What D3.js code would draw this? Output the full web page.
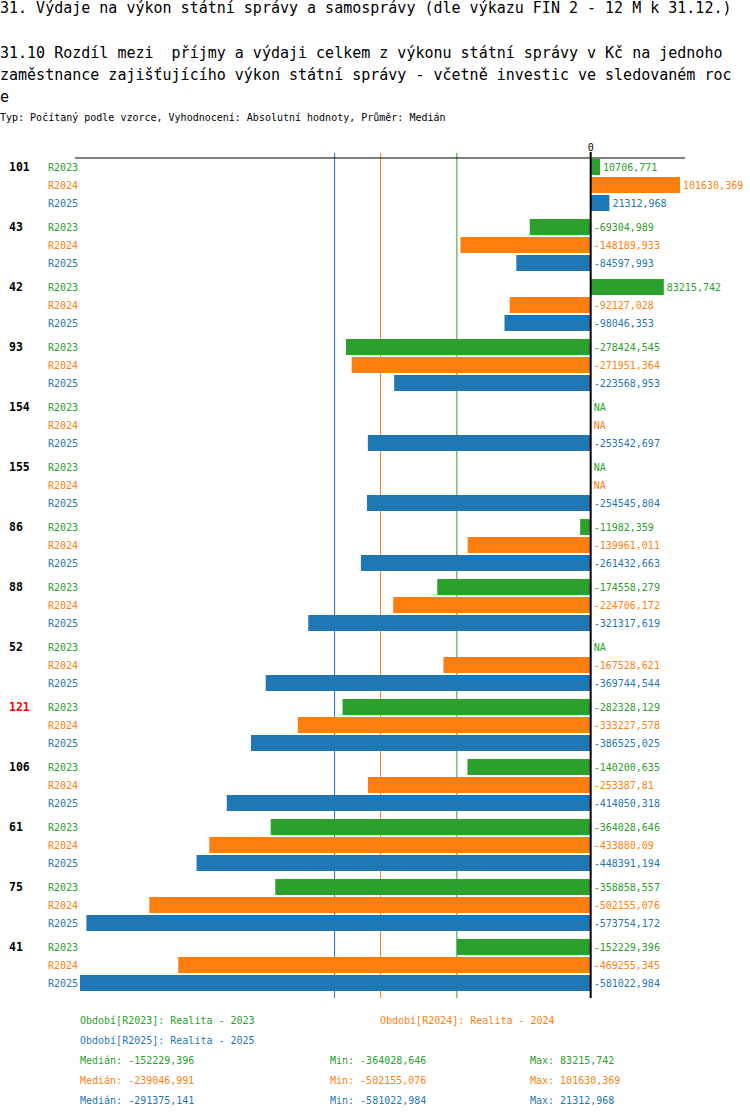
<!DOCTYPE html>
<html>
<head>
<meta charset="utf-8">
<script src="https://cdn.jsdelivr.net/npm/d3@7"></script>
<style>
  body { margin: 0; background: #fff; }
  svg { display: block; font-family: "DejaVu Sans Mono", "Liberation Mono", monospace; }
</style>
</head>
<body>
<svg></svg>
<script>
// data (null = NA)
const groups = ['101', '43', '42', '93', '154', '155', '86', '88', '52', '121', '106', '61', '75', '41']
const highlighted = ['121']
const series = ['R2023', 'R2024', 'R2025']
const seriesNames = ['Realita - 2023', 'Realita - 2024', 'Realita - 2025']
const r2023 = [10706.771, -69304.989, 83215.742, -278424.545, null, null, -11982.359, -174558.279, null, -282328.129, -140200.635, -364028.646, -358858.557, -152229.396]
const r2024 = [101630.369, -148189.933, -92127.028, -271951.364, null, null, -139961.011, -224706.172, -167528.621, -333227.578, -253387.81, -433880.09, -502155.076, -469255.345]
const r2025 = [21312.968, -84597.993, -98046.353, -223568.953, -253542.697, -254545.804, -261432.663, -321317.619, -369744.544, -386525.025, -414050.318, -448391.194, -573754.172, -581022.984]
const colors = ['#2ca02c', '#ff7f0e', '#1f77b4']

const titleLines = [
  '31. Výdaje na výkon státní správy a samosprávy (dle výkazu FIN 2 - 12 M k 31.12.)',
  '',
  '31.10 Rozdíl mezi  příjmy a výdaji celkem z výkonu státní správy v Kč na jednoho',
  'zaměstnance zajišťujícího výkon státní správy - včetně investic ve sledovaném roc',
  'e'
]
const subtitle = 'Typ: Počítaný podle vzorce, Vyhodnocení: Absolutní hodnoty, Průměr: Medián'

window.onload = () => {
  const width = 750
  const height = 1118
  const values = [r2023, r2024, r2025]

  const svg = d3.select('svg')
    .attr('width', width)
    .attr('height', height)
    .attr('viewBox', [0, 0, width, height])

  // formát čísel s desetinnou čárkou
  const fmt = v => String(+v.toFixed(3)).replace('.', ',')

  // nadpisy
  svg.append('g').selectAll('text')
    .data(titleLines)
    .join('text')
    .attr('x', 0)
    .attr('y', (d, i) => 8 + i * 22.3)
    .attr('dominant-baseline', 'central')
    .attr('font-size', 15)
    .style('white-space', 'pre')
    .text(d => d)

  svg.append('text')
    .attr('x', 0)
    .attr('y', 117)
    .attr('dominant-baseline', 'central')
    .attr('font-size', 10)
    .text(subtitle)

  // škály
  const all = values.flat().filter(v => v !== null)
  const x = d3.scaleLinear()
    .domain([d3.min(all), d3.max(all)])
    .range([80, 680])

  const y = d3.scaleBand()
    .domain(groups)
    .range([158, 998])

  const yInner = d3.scaleBand()
    .domain(series)
    .range([0, 54])

  const x0 = x(0)

  // mediány jako svislé čáry
  const medians = values.map(arr => d3.median(arr.filter(v => v !== null)))
  svg.append('g').selectAll('line')
    .data(medians)
    .join('line')
    .attr('x1', d => x(d))
    .attr('x2', d => x(d))
    .attr('y1', 153)
    .attr('y2', 998)
    .attr('stroke', (d, i) => colors[i])
    .attr('stroke-width', 1)

  // sloupce
  const rows = []
  groups.forEach((g, gi) => {
    series.forEach((s, si) => {
      rows.push({ group: g, key: s, si: si, value: values[si][gi] })
    })
  })

  const rowY = d => y(d.group) + yInner(d.key)

  svg.append('g').selectAll('rect')
    .data(rows.filter(d => d.value !== null))
    .join('rect')
    .attr('x', d => Math.min(x(d.value), x0))
    .attr('y', d => rowY(d) + 1)
    .attr('width', d => Math.abs(x(d.value) - x0))
    .attr('height', yInner.bandwidth() - 2)
    .attr('fill', d => colors[d.si])

  // popisky hodnot
  svg.append('g').selectAll('text')
    .data(rows)
    .join('text')
    .attr('x', d => (d.value !== null && d.value > 0 ? x(d.value) : x0) + 3)
    .attr('y', d => rowY(d) + yInner.bandwidth() / 2)
    .attr('dominant-baseline', 'central')
    .attr('font-size', 10)
    .attr('fill', d => colors[d.si])
    .text(d => d.value === null ? 'NA' : fmt(d.value))

  // popisky řad
  svg.append('g').selectAll('text')
    .data(rows)
    .join('text')
    .attr('x', 48)
    .attr('y', d => rowY(d) + yInner.bandwidth() / 2)
    .attr('dominant-baseline', 'central')
    .attr('font-size', 10)
    .attr('fill', d => colors[d.si])
    .text(d => d.key)

  // popisky skupin
  svg.append('g').selectAll('text')
    .data(groups)
    .join('text')
    .attr('x', 9)
    .attr('y', d => y(d) + 9)
    .attr('dominant-baseline', 'central')
    .attr('font-size', 11.5)
    .attr('font-weight', 'bold')
    .attr('fill', d => highlighted.includes(d) ? '#ff0000' : '#000')
    .text(d => d)

  // osa
  svg.append('line')
    .attr('x1', x.range()[0] - 5)
    .attr('x2', x.range()[1] + 5)
    .attr('y1', 158)
    .attr('y2', 158)
    .attr('stroke', '#000')
    .attr('stroke-width', 1.2)

  svg.append('line')
    .attr('x1', x0)
    .attr('x2', x0)
    .attr('y1', 152)
    .attr('y2', 998)
    .attr('stroke', '#000')
    .attr('stroke-width', 2)

  svg.append('text')
    .attr('x', x0)
    .attr('y', 147)
    .attr('text-anchor', 'middle')
    .attr('dominant-baseline', 'central')
    .attr('font-size', 10)
    .text('0')

  // legenda
  const legend = svg.append('g').attr('font-size', 10)
  const legendPos = [[80, 1020], [380, 1020], [80, 1040]]
  series.forEach((s, i) => {
    legend.append('text')
      .attr('x', legendPos[i][0])
      .attr('y', legendPos[i][1])
      .attr('dominant-baseline', 'central')
      .attr('fill', colors[i])
      .text('Období[' + s + ']: ' + seriesNames[i])
  })

  values.forEach((arr, i) => {
    const v = arr.filter(d => d !== null)
    const yy = 1060 + i * 20
    const stats = [[80, 'Medián: ' + fmt(d3.median(v))], [330, 'Min: ' + fmt(d3.min(v))], [530, 'Max: ' + fmt(d3.max(v))]]
    stats.forEach(s => {
      legend.append('text')
        .attr('x', s[0])
        .attr('y', yy)
        .attr('dominant-baseline', 'central')
        .attr('fill', colors[i])
        .text(s[1])
    })
  })
}
</script>
</body>
</html>
